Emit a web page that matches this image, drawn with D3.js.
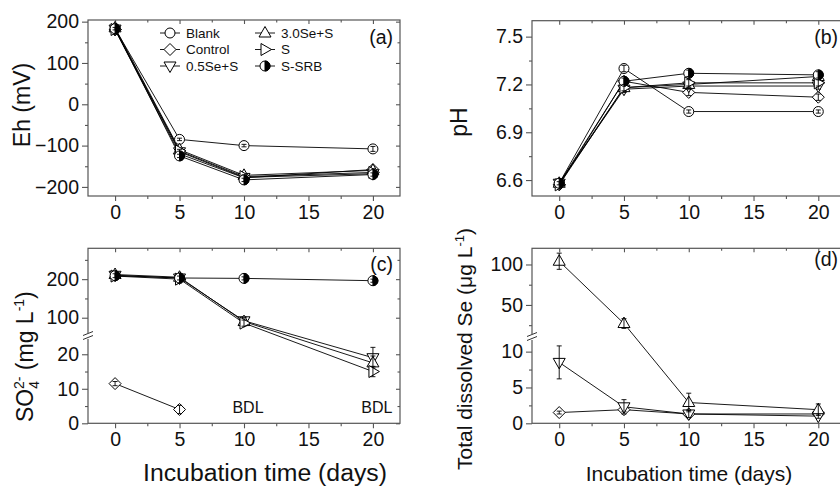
<!DOCTYPE html>
<html><head><meta charset="utf-8">
<script src="https://cdn.jsdelivr.net/npm/d3@7"></script>
<style>
body{margin:0;background:#fff}
svg{display:block}
text{font-family:"Liberation Sans",Arial,Helvetica,sans-serif;fill:#111}
</style>
</head><body>
<svg id="c" width="840" height="486"></svg>
<script>
// ---------------- data ----------------
const days = [0, 5, 10, 20];
const seriesNames = ["Blank", "Control", "0.5Se+S", "3.0Se+S", "S", "S-SRB"];
const markerTypes = ["circle", "diamond", "triDown", "triUp", "triRight", "half"];

// (a) Eh (mV)
const ehValues = [
  [183, -85, -100, -108],
  [180, -120, -178, -158],
  [182, -115, -177, -168],
  [185, -110, -172, -160],
  [181, -113, -175, -165],
  [183, -125, -183, -170]
];
const ehErrors = [
  [3, 3, 3, 6],
  [3, 4, 4, 4],
  [3, 4, 4, 4],
  [3, 4, 4, 4],
  [3, 4, 4, 4],
  [3, 4, 4, 4]
];
// (b) pH
const phValues = [
  [6.58, 7.30, 7.03, 7.03],
  [6.57, 7.22, 7.15, 7.12],
  [6.58, 7.17, 7.19, 7.19],
  [6.58, 7.18, 7.20, 7.25],
  [6.57, 7.18, 7.21, 7.21],
  [6.58, 7.22, 7.27, 7.26]
];
const phErrors = [
  [0.01, 0.02, 0.01, 0.01],
  [0.01, 0.02, 0.02, 0.02],
  [0.01, 0.02, 0.02, 0.02],
  [0.01, 0.02, 0.02, 0.02],
  [0.01, 0.02, 0.02, 0.02],
  [0.01, 0.02, 0.02, 0.02]
];
// (c) SO4 2- (mg/L), null = not measured / BDL
const so4Values = [
  [null, null, null, null],
  [11.5, 4, null, null],
  [210, 203, 92, 19],
  [212, 205, 90, 17.5],
  [208, 200, 86, 15],
  [209, 203, 202, 196]
];
const so4Errors = [
  [0, 0, 0, 0],
  [0.6, 1.2, 0, 0],
  [6, 8, 10, 3],
  [6, 8, 10, 2],
  [6, 10, 8, 1.5],
  [5, 5, 4, 4]
];
// (d) Total dissolved Se (ug/L)
const seValues = [
  [null, null, null, null],
  [1.5, 1.9, 1.3, 1.3],
  [8.5, 2.3, 1.3, 1.0],
  [104, 27, 2.9, 1.9],
  [null, null, null, null],
  [null, null, null, null]
];
const seErrors = [
  [0, 0, 0, 0],
  [0.2, 0.3, 0.3, 0.3],
  [2.3, 1.0, 0.5, 0.3],
  [10, 6, 1.3, 0.8],
  [0, 0, 0, 0],
  [0, 0, 0, 0]
];

// ticks
const xTicks = [0, 5, 10, 15, 20];
const xMinorTicks = [2.5, 7.5, 12.5, 17.5];
const ehTicks = [-200, -100, 0, 100, 200];
const ehMinorTicks = [-150, -50, 50, 150];
const phTicks = [6.6, 6.9, 7.2, 7.5];
const phMinorTicks = [6.75, 7.05, 7.35];
const so4LowTicks = [0, 10, 20];
const so4LowMinor = [5, 15];
const so4HighTicks = [100, 200];
const so4HighMinor = [150, 250];
const seLowTicks = [0, 5, 10];
const seLowMinor = [2.5, 7.5];
const seHighTicks = [50, 100];
const seHighMinor = [25, 75];
const bdlDays = [10, 20];

// ---------------- drawing ----------------
const svg = d3.select("#c");
const AX = "#555";
const TICK_FS = 19.5;

function drawMarker(g, type, cx, cy) {
  const r = 5;
  if (type === "circle" || type === "half") {
    g.append("circle").attr("cx", cx).attr("cy", cy).attr("r", r)
      .attr("fill", "#fff").attr("stroke", "#000").attr("stroke-width", 1);
    if (type === "half") {
      g.append("path").attr("d", `M${cx},${cy - r} A${r},${r} 0 0 1 ${cx},${cy + r} Z`)
        .attr("fill", "#000").attr("stroke", "#000").attr("stroke-width", 1);
    }
    return;
  }
  let pts;
  if (type === "diamond") pts = [[0, -6], [6, 0], [0, 6], [-6, 0]];
  else if (type === "triUp") pts = [[0, -6.5], [6, 4], [-6, 4]];
  else if (type === "triDown") pts = [[0, 6.5], [6, -4], [-6, -4]];
  else if (type === "triRight") pts = [[6.5, 0], [-4, -6], [-4, 6]];
  g.append("path")
    .attr("d", "M" + pts.map(p => (cx + p[0]) + "," + (cy + p[1])).join("L") + "Z")
    .attr("fill", "#fff").attr("stroke", "#000").attr("stroke-width", 1);
}

function styleAxis(sel, fs) {
  sel.attr("font-family", null).attr("font-size", null);
  sel.select(".domain").remove();
  sel.selectAll(".tick line").attr("stroke", AX).attr("stroke-width", 1.1);
  sel.selectAll(".tick text").attr("font-size", fs).attr("fill", "#111");
}

function brokenScale(lo, hi, loMax) {
  return v => (v <= loMax ? lo(v) : hi(v));
}

function panel(cfg) {
  const g = svg.append("g");
  const x = d3.scaleLinear().domain([-2.1, 22.1]).range(cfg.xRange);
  const [L, R] = cfg.xRange;
  const T = cfg.top, B = cfg.bottom;

  styleAxis(g.append("g").attr("transform", `translate(0,${B})`)
    .call(d3.axisBottom(x).tickValues(xTicks).tickSize(5).tickPadding(4).tickSizeOuter(0)), TICK_FS);
  styleAxis(g.append("g").attr("transform", `translate(0,${B})`)
    .call(d3.axisBottom(x).tickValues(xMinorTicks).tickSize(3).tickFormat("").tickSizeOuter(0)), TICK_FS);
  styleAxis(g.append("g").attr("transform", `translate(0,${T})`)
    .call(d3.axisTop(x).tickValues(xTicks).tickSize(-4).tickFormat("").tickSizeOuter(0)), TICK_FS);
  styleAxis(g.append("g").attr("transform", `translate(0,${T})`)
    .call(d3.axisTop(x).tickValues(xMinorTicks).tickSize(-2.5).tickFormat("").tickSizeOuter(0)), TICK_FS);

  cfg.segments.forEach(seg => {
    styleAxis(g.append("g").attr("transform", `translate(${L},0)`)
      .call(d3.axisLeft(seg.scale).tickValues(seg.ticks).tickSize(6).tickPadding(3)
        .tickFormat(seg.fmt || d3.format("d")).tickSizeOuter(0)), TICK_FS);
    styleAxis(g.append("g").attr("transform", `translate(${L},0)`)
      .call(d3.axisLeft(seg.scale).tickValues(seg.minor).tickSize(3).tickFormat("").tickSizeOuter(0)), TICK_FS);
    styleAxis(g.append("g").attr("transform", `translate(${R},0)`)
      .call(d3.axisRight(seg.scale).tickValues(seg.ticks).tickSize(-4).tickFormat("").tickSizeOuter(0)), TICK_FS);
    styleAxis(g.append("g").attr("transform", `translate(${R},0)`)
      .call(d3.axisRight(seg.scale).tickValues(seg.minor).tickSize(-2.5).tickFormat("").tickSizeOuter(0)), TICK_FS);
  });

  g.append("rect").attr("x", L).attr("y", T).attr("width", R - L).attr("height", B - T)
    .attr("fill", "none").attr("stroke", AX).attr("stroke-width", 1.2);

  if (cfg.breakY != null) {
    const by = cfg.breakY;
    g.append("rect").attr("x", L - 3).attr("y", by - 3).attr("width", 6).attr("height", 6).attr("fill", "#fff");
    g.append("line").attr("x1", L - 5).attr("y1", by - 0.5).attr("x2", L + 5).attr("y2", by - 4.5)
      .attr("stroke", "#333").attr("stroke-width", 1);
    g.append("line").attr("x1", L - 5).attr("y1", by + 3.5).attr("x2", L + 5).attr("y2", by - 0.5)
      .attr("stroke", "#333").attr("stroke-width", 1);
  }

  const y = cfg.y;
  const line = d3.line().x(d => x(d.d)).y(d => y(d.v));
  const pointsOf = i => days.map((d, j) => ({ d, v: cfg.values[i][j], e: cfg.errors[i][j] }))
    .filter(p => p.v != null);

  seriesNames.forEach((name, i) => {
    const pts = pointsOf(i);
    if (!pts.length) return;
    g.append("path").datum(pts).attr("d", line).attr("fill", "none")
      .attr("stroke", "#000").attr("stroke-width", 0.9);
  });
  seriesNames.forEach((name, i) => {
    const pts = pointsOf(i);
    pts.forEach(p => drawMarker(g, markerTypes[i], x(p.d), y(p.v)));
    pts.forEach(p => {
      if (!p.e) return;
      const xx = x(p.d), ya = y(p.v + p.e), yb = y(p.v - p.e);
      g.append("line").attr("x1", xx).attr("x2", xx).attr("y1", ya).attr("y2", yb)
        .attr("stroke", "#000").attr("stroke-width", 0.9);
      [ya, yb].forEach(yy => g.append("line").attr("x1", xx - 2.5).attr("x2", xx + 2.5)
        .attr("y1", yy).attr("y2", yy).attr("stroke", "#000").attr("stroke-width", 0.9));
    });
  });

  g.append("text").attr("x", cfg.labelPos[0]).attr("y", cfg.labelPos[1])
    .attr("text-anchor", "end").attr("dominant-baseline", "central")
    .attr("font-size", 19.5).text(cfg.label);
  return { g, x, y };
}

// (a)
const yEh = d3.scaleLinear().domain([-222, 204]).range([196, 20]);
panel({
  xRange: [88, 400], top: 20, bottom: 196,
  y: yEh, segments: [{ scale: yEh, ticks: ehTicks, minor: ehMinorTicks }],
  values: ehValues, errors: ehErrors, label: "(a)", labelPos: [393, 36.5]
});

// (b)
const yPh = d3.scaleLinear().domain([6.5, 7.6]).range([196, 20.7]);
panel({
  xRange: [532, 845.5], top: 20.7, bottom: 196,
  y: yPh, segments: [{ scale: yPh, ticks: phTicks, minor: phMinorTicks, fmt: d3.format(".1f") }],
  values: phValues, errors: phErrors, label: "(b)", labelPos: [838, 36.5]
});

// (c)
const so4Lo = d3.scaleLinear().domain([0, 25]).range([423.3, 337]);
const so4Hi = d3.scaleLinear().domain([50, 280]).range([337, 248.3]);
const pc = panel({
  xRange: [88, 400], top: 248.3, bottom: 423.3,
  y: brokenScale(so4Lo, so4Hi, 25),
  segments: [{ scale: so4Lo, ticks: so4LowTicks, minor: so4LowMinor },
             { scale: so4Hi, ticks: so4HighTicks, minor: so4HighMinor }],
  breakY: 336,
  values: so4Values, errors: so4Errors, label: "(c)", labelPos: [393, 264]
});
bdlDays.forEach(d => pc.g.append("text").attr("x", pc.x(d) + 4).attr("y", 407)
  .attr("text-anchor", "middle").attr("dominant-baseline", "central")
  .attr("font-size", 16).text("BDL"));

// (d)
const seLo = d3.scaleLinear().domain([0, 12]).range([423.3, 337.3]);
const seHi = d3.scaleLinear().domain([10, 120]).range([337.3, 248.3]);
panel({
  xRange: [532, 845.5], top: 248.3, bottom: 423.3,
  y: brokenScale(seLo, seHi, 12),
  segments: [{ scale: seLo, ticks: seLowTicks, minor: seLowMinor },
             { scale: seHi, ticks: seHighTicks, minor: seHighMinor }],
  breakY: 337,
  values: seValues, errors: seErrors, label: "(d)", labelPos: [838, 259]
});

// legend in (a)
const legendPos = [[170, 33], [170, 49.5], [170, 66], [265, 33], [265, 49.5], [265, 66]];
const lg = svg.append("g");
seriesNames.forEach((name, i) => {
  const [cx, cy] = legendPos[i];
  lg.append("line").attr("x1", cx - 10).attr("x2", cx + 10).attr("y1", cy).attr("y2", cy)
    .attr("stroke", "#000").attr("stroke-width", 0.9);
  drawMarker(lg, markerTypes[i], cx, cy);
  lg.append("text").attr("x", cx + 16).attr("y", cy).attr("dominant-baseline", "central")
    .attr("font-size", 13.5).text(name);
});

// axis titles
function rotTitle(bx, startY, fs, build, anchor) {
  const t = svg.append("g").attr("transform", `translate(${bx},0) rotate(-90)`)
    .append("text").attr("x", -startY).attr("y", 0).attr("font-size", fs)
    .attr("text-anchor", anchor || "start");
  build(t);
}
rotTitle(30, 105, 23, t => t.text("Eh (mV)"), "middle");
rotTitle(467, 122, 23, t => t.text("pH"), "middle");
rotTitle(33, 422, 23, t => {
  t.append("tspan").text("SO");
  t.append("tspan").attr("font-size", 14).attr("dy", 6).text("4");
  t.append("tspan").attr("font-size", 14).attr("dx", -8).attr("dy", -15).text("2-");
  t.append("tspan").attr("dy", 9).text(" (mg L");
  t.append("tspan").attr("font-size", 14).attr("dy", -9).text("-1");
  t.append("tspan").attr("dy", 9).text(")");
});
rotTitle(472, 470, 21, t => {
  t.append("tspan").text("Total dissolved Se (μg L");
  t.append("tspan").attr("font-size", 13).attr("dy", -8).text("-1");
  t.append("tspan").attr("dy", 8).text(")");
});

svg.append("text").attr("x", 143).attr("y", 481)
  .attr("font-size", 23).attr("textLength", 244).attr("lengthAdjust", "spacingAndGlyphs")
  .text("Incubation time (days)");
svg.append("text").attr("x", 689).attr("y", 481).attr("text-anchor", "middle")
  .attr("font-size", 21).text("Incubation time (days)");
</script>
</body></html>
